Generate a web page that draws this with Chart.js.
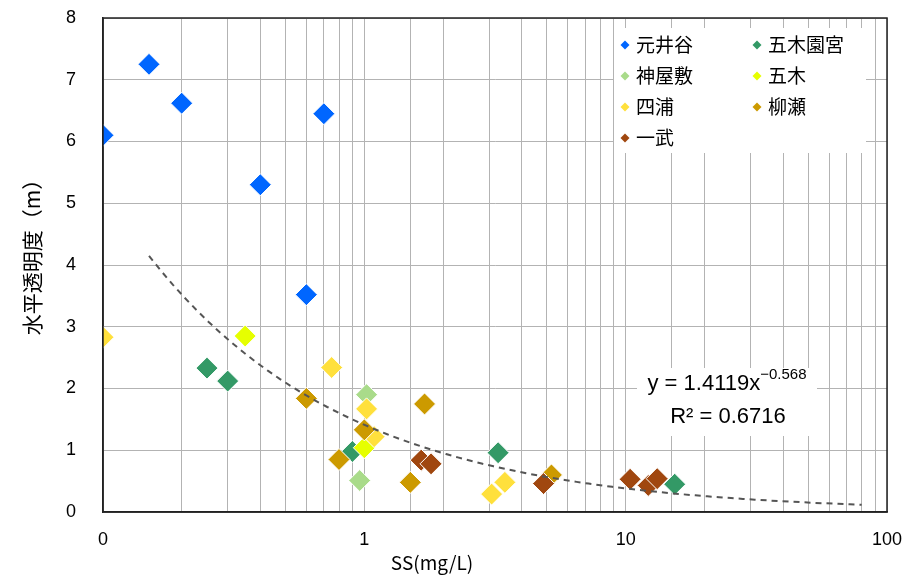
<!DOCTYPE html>
<html>
<head>
<meta charset="utf-8">
<script src="https://cdn.jsdelivr.net/npm/chart.js@4.4.1/dist/chart.umd.min.js"></script>
<style>
  html, body { margin: 0; padding: 0; background: #fff; }
  canvas { display: block; }
</style>
</head>
<body>
<canvas id="chart" width="904" height="575"></canvas>
<script>
// series names (legend order)
const seriesNames = ["元井谷", "五木園宮", "神屋敷", "五木", "四浦", "柳瀬", "一武"];
const seriesColors = ["#0066ff", "#339966", "#a9db8a", "#e6ff00", "#ffe03c", "#cc9a00", "#a0470f"];

// SS (mg/L) and horizontal transparency (m)
const motoidaniX = [0.1, 0.15, 0.2, 0.4, 0.7, 0.6];
const motoidaniY = [6.1, 7.25, 6.62, 5.3, 6.45, 3.52];
const gomokusonomiyaX = [0.25, 0.3, 0.9, 3.25, 15.4];
const gomokusonomiyaY = [2.33, 2.12, 0.98, 0.96, 0.45];
const kamiyashikiX = [1.02, 0.96];
const kamiyashikiY = [1.9, 0.51];
const itsukiX = [0.35, 1.0];
const itsukiY = [2.85, 1.04];
const shiuraX = [0.1, 0.75, 1.02, 1.09, 3.45, 3.07];
const shiuraY = [2.83, 2.34, 1.67, 1.22, 0.48, 0.29];
const yanaseX = [0.6, 1.0, 0.8, 1.7, 1.5, 5.2];
const yanaseY = [1.84, 1.33, 0.85, 1.75, 0.48, 0.6];
const ichibuX = [1.65, 1.8, 4.85, 10.4, 12.2, 13.2];
const ichibuY = [0.84, 0.78, 0.46, 0.53, 0.43, 0.54];

// power trendline shown on the chart: y = a * x^b
const trendA = 1.4119;
const trendB = -0.568;
const trendFrom = 0.15;
const trendTo = 80;
const trendText = "y = 1.4119x";
const trendExpText = "\u22120.568";
const r2Text = "R\u00b2 = 0.6716";

const xTickValues = [0.1, 1, 10, 100];
const xTickLabels = ["0", "1", "10", "100"];
const xTitle = "SS(mg/L)";
const yTitle = "水平透明度（m）";

const seriesX = [motoidaniX, gomokusonomiyaX, kamiyashikiX, itsukiX, shiuraX, yanaseX, ichibuX];
const seriesY = [motoidaniY, gomokusonomiyaY, kamiyashikiY, itsukiY, shiuraY, yanaseY, ichibuY];

const pointSets = seriesNames.map((name, i) => ({
  label: name,
  data: seriesX[i].map((x, j) => ({ x: x, y: seriesY[i][j] })),
  backgroundColor: seriesColors[i],
  borderColor: "#ffffff",
  borderWidth: 1,
  pointStyle: "rectRot",
  pointRadius: 11,
  pointHoverRadius: 11,
  order: seriesNames.length - i,
}));

const trendData = [];
const steps = 60;
for (let k = 0; k <= steps; k++) {
  const lx = Math.log10(trendFrom) + (Math.log10(trendTo) - Math.log10(trendFrom)) * k / steps;
  const x = Math.pow(10, lx);
  trendData.push({ x: x, y: trendA * Math.pow(x, trendB) });
}

// no extra room for overflowing tick labels, the frame is placed by layout.padding
const noOverflow = (s) => {
  s.paddingTop = 0; s.paddingBottom = 0; s.paddingLeft = 0; s.paddingRight = 0;
};

const decor = {
  id: "decor",
  afterDraw(chart) {
    const ctx = chart.ctx;
    const a = chart.chartArea;
    ctx.save();

    // legend box
    ctx.fillStyle = "#fff";
    ctx.fillRect(614, 28, 252, 125);
    ctx.font = "19px 'Noto Sans CJK JP'";
    ctx.textBaseline = "middle";
    ctx.textAlign = "left";
    seriesNames.forEach((name, i) => {
      const col = i % 2, row = Math.floor(i / 2);
      const mx = col === 0 ? 625 : 757;
      const my = 45 + row * 31;
      ctx.fillStyle = seriesColors[i];
      ctx.beginPath();
      ctx.moveTo(mx - 4.5, my);
      ctx.lineTo(mx, my - 4.5);
      ctx.lineTo(mx + 4.5, my);
      ctx.lineTo(mx, my + 4.5);
      ctx.closePath();
      ctx.fill();
      ctx.fillStyle = "#000";
      ctx.fillText(name, mx + 11, my);
    });

    // trendline label
    ctx.fillStyle = "#fff";
    ctx.fillRect(637, 368, 180, 68);
    ctx.fillStyle = "#000";
    ctx.font = "22px 'Liberation Sans'";
    const w1 = ctx.measureText(trendText).width;
    ctx.font = "15px 'Liberation Sans'";
    const w2 = ctx.measureText(trendExpText).width;
    const sx = 727 - (w1 + w2) / 2;
    ctx.font = "22px 'Liberation Sans'";
    ctx.textBaseline = "alphabetic";
    ctx.fillText(trendText, sx, 390);
    ctx.font = "15px 'Liberation Sans'";
    ctx.fillText(trendExpText, sx + w1, 379);
    ctx.font = "22px 'Liberation Sans'";
    ctx.textAlign = "center";
    ctx.fillText(r2Text, 728, 423);

    // axis titles
    ctx.font = "19px 'Noto Sans CJK JP'";
    ctx.textBaseline = "middle";
    ctx.fillText(xTitle, 432, 563);
    ctx.font = "21px 'Noto Sans CJK JP'";
    ctx.translate(32, 252);
    ctx.rotate(-Math.PI / 2);
    ctx.fillText(yTitle, 0, 0);
    ctx.restore();

    // plot frame
    ctx.save();
    ctx.strokeStyle = "#222";
    ctx.lineWidth = 1.5;
    ctx.strokeRect(a.left, a.top, a.right - a.left, a.bottom - a.top);
    ctx.restore();
  },
};

new Chart(document.getElementById("chart"), {
  type: "scatter",
  data: {
    datasets: [
      ...pointSets,
      {
        type: "line",
        label: "trend",
        data: trendData,
        borderColor: "#555",
        borderWidth: 2,
        borderDash: [6, 5],
        pointRadius: 0,
        fill: false,
        tension: 0,
        order: 0,
      },
    ],
  },
  options: {
    responsive: false,
    animation: false,
    events: [],
    layout: { padding: { top: 18, right: 17, left: 0, bottom: 0 } },
    plugins: { legend: { display: false }, tooltip: { enabled: false } },
    scales: {
      x: {
        type: "logarithmic",
        min: 0.1,
        max: 100,
        afterFit: (s) => { s.height = 63; noOverflow(s); },
        grid: { color: "#b3b3b3", lineWidth: 1, drawTicks: false },
        border: { display: true, color: "#222", width: 1.5 },
        ticks: {
          autoSkip: false,
          maxRotation: 0,
          padding: 17,
          color: "#000",
          font: { family: "'Liberation Sans'", size: 18 },
          callback: (v) => {
            const k = xTickValues.findIndex((t) => Math.abs(t - v) < 1e-9);
            return k >= 0 ? xTickLabels[k] : "";
          },
        },
      },
      y: {
        min: 0,
        max: 8,
        afterFit: (s) => { s.width = 103; noOverflow(s); },
        grid: { color: "#b3b3b3", lineWidth: 1, drawTicks: false },
        border: { display: true, color: "#222", width: 1.5 },
        ticks: {
          stepSize: 1,
          padding: 27,
          color: "#000",
          font: { family: "'Liberation Sans'", size: 18 },
        },
      },
    },
  },
  plugins: [decor],
});
</script>
</body>
</html>
